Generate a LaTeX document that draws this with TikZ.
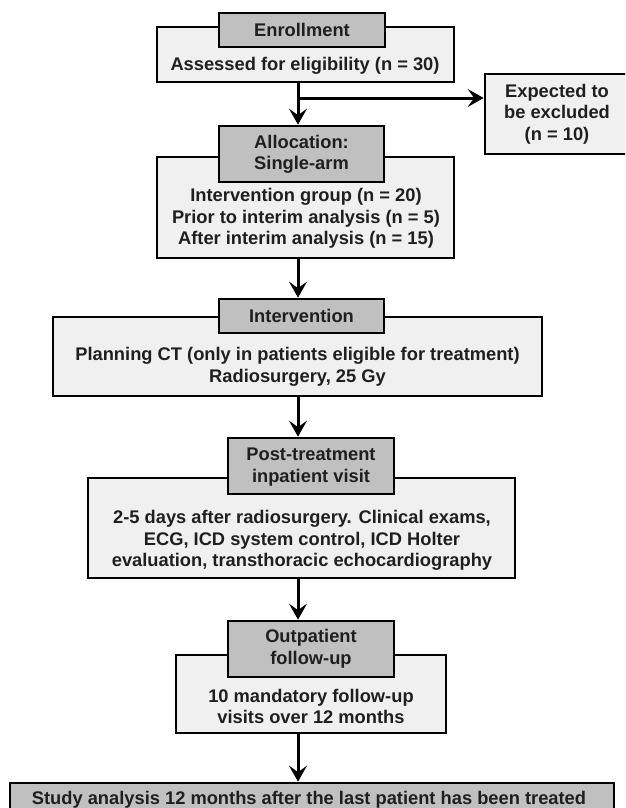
\documentclass[tikz,border=0pt]{standalone}
\usepackage{fontspec}
\setmainfont{Liberation Sans}
\usetikzlibrary{arrows.meta}
\definecolor{headgray}{RGB}{192,192,192}
\definecolor{boxgray}{RGB}{240,240,240}
\begin{document}
\begin{tikzpicture}[x=1pt,y=-1pt,
  outerbox/.style={draw=black, line width=2.7pt, fill=boxgray, rectangle, inner sep=0pt},
  headbox/.style={draw=black, line width=2.7pt, fill=headgray, rectangle, inner sep=0pt},
  lbl/.style={font=\bfseries\fontsize{18.3}{21.5}\selectfont, align=center, inner sep=0pt, text=black!88},
  arr/.style={line width=3pt, -{Stealth[length=16pt,width=18pt,inset=6.5pt]}}]
\useasboundingbox (0,0) rectangle (625,808);
\clip (0,0) rectangle (625,808);
\coordinate (spine) at (298,0);
% Enrollment
\node[outerbox, minimum width=297pt, minimum height=55pt] (enrollbox) at (305.5,54.5) {};
\node[headbox, minimum width=166pt, minimum height=34pt] (enrollhead) at (302,30) {};
\node[lbl] (enrolltitle) at (enrollhead.center) {Enrollment};
\node[lbl] (assessed) at (305,66) {Assessed for eligibility (n = 30)};
% Excluded
\node[outerbox, minimum width=155pt, minimum height=80pt] (excl) at (562.5,114) {};
\node[lbl] (excltext) at (557,114) {Expected to\\be excluded\\(n = 10)};
% Allocation
\node[outerbox, minimum width=297pt, minimum height=101pt] (allocbox) at (305.5,207.5) {};
\node[headbox, minimum width=165pt, minimum height=56pt] (allochead) at (301.5,154) {};
\node[lbl] (alloctitle) at (301.5,154.5) {Allocation:\\Single-arm};
\node[lbl] (alloctext) at (306,218.5) {Intervention group (n = 20)\\Prior to interim analysis (n = 5)\\After interim analysis (n = 15)};
% Intervention
\node[outerbox, minimum width=489pt, minimum height=79pt] (intbox) at (297.5,356.5) {};
\node[headbox, minimum width=165pt, minimum height=34pt] (inthead) at (301.5,316) {};
\node[lbl] (inttitle) at (inthead.center) {Intervention};
\node[lbl] (inttext) at (297.5,367) {Planning CT (only in patients eligible for treatment)\\Radiosurgery, 25 Gy};
% Post-treatment
\node[outerbox, minimum width=427pt, minimum height=100pt] (postbox) at (301.5,528) {};
\node[headbox, minimum width=166pt, minimum height=56pt] (posthead) at (311,466) {};
\node[lbl] (posttitle) at (311,467) {Post-treatment\\inpatient visit};
\node[lbl] (posttext) at (302,540.4) {2-5 days after radiosurgery. Clinical exams,\\ECG, ICD system control, ICD Holter\\evaluation, transthoracic echocardiography};
% Outpatient
\node[outerbox, minimum width=270pt, minimum height=78pt] (outbox) at (311,694) {};
\node[headbox, minimum width=166pt, minimum height=56pt] (outhead) at (311,649) {};
\node[lbl] (outtitle) at (311,649) {Outpatient\\follow-up};
\node[lbl] (outtext) at (311,706.5) {10 mandatory follow-up\\visits over 12 months};
% Final
\node[headbox, minimum width=604pt, minimum height=47pt] (final) at (312,806.5) {};
\node[lbl] (finaltext) at (309,800) {Study analysis 12 months after the last patient has been treated};
% Connectors
\coordinate (branch) at (298,98);
\draw[arr] (enrollbox.south -| spine) -- (allochead.north -| spine);
\draw[arr] (branch) -- (excl.west |- branch);
\draw[arr] (allocbox.south -| spine) -- (inthead.north -| spine);
\draw[arr] (intbox.south -| spine) -- (posthead.north -| spine);
\draw[arr] (postbox.south -| spine) -- (outhead.north -| spine);
\draw[arr] (outbox.south -| spine) -- (final.north -| spine);
\end{tikzpicture}
\end{document}
